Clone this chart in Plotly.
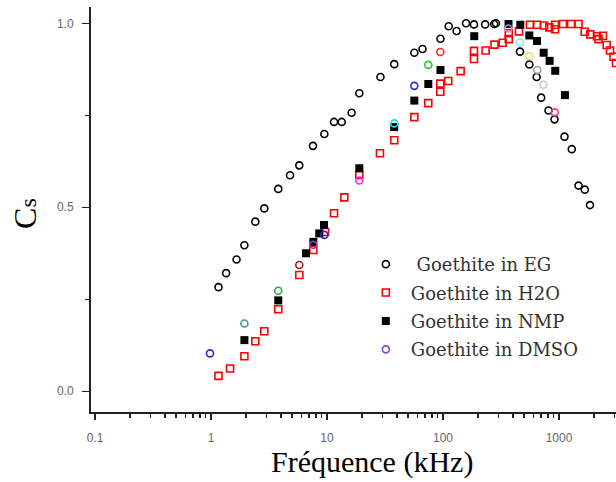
import plotly.graph_objects as go

# ---- data ----
EG_f = [1.16, 1.35, 1.66, 1.94, 2.41, 2.88, 3.80, 4.80, 5.77, 7.57,
        9.48, 11.5, 13.4, 16.3, 19.0, 28.9, 38.0, 56.6, 66.6, 95.1,
        112, 131, 158, 185, 231, 276, 286, 461, 555, 642,
        702, 812, 915, 1115, 1289, 1473, 1669, 1850]
EG_v = [0.283, 0.321, 0.358, 0.397, 0.461, 0.497, 0.550, 0.587, 0.614, 0.667,
        0.699, 0.732, 0.732, 0.757, 0.810, 0.854, 0.889, 0.920, 0.930, 0.958,
        0.992, 0.979, 1.0, 0.997, 0.997, 0.998, 1.0, 0.923, 0.888, 0.854,
        0.798, 0.763, 0.739, 0.692, 0.658, 0.559, 0.548, 0.506]

H2O_f = [1.16, 1.46, 1.94, 2.41, 2.88, 3.80, 5.77, 7.62, 9.61, 11.5,
         14.1, 19.0, 28.6, 38.0, 56.6, 74.7, 94.8, 94.8, 111, 142,
         185, 185, 233, 278, 327, 369, 369, 452, 562, 646,
         743, 825, 924, 924, 1083, 1269, 1473, 1666, 1861, 2126,
         2394, 2578, 2753, 2951, 3100, 2190]
H2O_v = [0.042, 0.062, 0.095, 0.136, 0.163, 0.223, 0.316, 0.384, 0.433, 0.484,
         0.527, 0.588, 0.647, 0.682, 0.745, 0.783, 0.814, 0.836, 0.843, 0.870,
         0.925, 0.903, 0.926, 0.942, 0.947, 0.957, 0.973, 0.978, 0.996, 0.996,
         0.994, 0.989, 0.996, 0.984, 0.998, 0.998, 0.998, 0.977, 0.970, 0.965,
         0.966, 0.941, 0.926, 0.909, 0.892, 0.957]

NMP_f = [1.94, 3.80, 6.59, 7.62, 8.58, 9.42, 19.0, 38.0, 56.6, 74.7,
         95.1, 186, 367, 464, 555, 646, 738, 830, 928, 1126]
NMP_v = [0.139, 0.247, 0.375, 0.406, 0.429, 0.452, 0.606, 0.718, 0.790, 0.835,
         0.873, 0.965, 0.998, 0.996, 0.967, 0.952, 0.920, 0.898, 0.871, 0.805]

DMSO_f = [0.98, 1.94, 3.80, 5.77, 7.62, 9.48, 19.0, 38.0, 56.6, 74.7,
          94.8, 366, 461, 555, 650, 732, 918]
DMSO_v = [0.103, 0.184, 0.273, 0.343, 0.398, 0.425, 0.573, 0.728, 0.830, 0.887,
          0.922, 0.986, 0.948, 0.911, 0.873, 0.833, 0.758]
DMSO_colors = ["#2a2ac8", "#3a9a9a", "#3aa83a", "#a02222", "#a040b0", "#2a2ac8",
               "#ff22ff", "#22e0e8", "#2a2ae0", "#22d022", "#ff2222", "#e070e8",
               "#90e8e8", "#e8e070", "#a0a0a0", "#c8c8c8", "#ff3090"]

names = ["\u00a0Goethite in EG", "Goethite in H2O", "Goethite in NMP", "Goethite in DMSO"]
x_ticks = [0.1, 1, 10, 100, 1000]
x_labels = ["0.1", "1", "10", "100", "1000"]
y_ticks = [0.0, 0.5, 1.0]
y_labels = ["0.0", "0.5", "1.0"]

fig = go.Figure()
fig.add_trace(go.Scatter(
    x=EG_f, y=EG_v, mode="markers", name=names[0], legendgroup="a",
    marker=dict(symbol="circle-open", size=7, color="black", line=dict(width=1.6)),
    cliponaxis=False))
fig.add_trace(go.Scatter(
    x=H2O_f, y=H2O_v, mode="markers", name=names[1], legendgroup="b",
    marker=dict(symbol="square-open", size=7, color="#ff0000", line=dict(width=1.6)),
    cliponaxis=False))
fig.add_trace(go.Scatter(
    x=NMP_f, y=NMP_v, mode="markers", name=names[2], legendgroup="c",
    marker=dict(symbol="square", size=8, color="black"),
    cliponaxis=False))
fig.add_trace(go.Scatter(
    x=DMSO_f, y=DMSO_v, mode="markers", showlegend=False,
    marker=dict(symbol="circle-open", size=7, color=DMSO_colors, line=dict(width=1.6)),
    cliponaxis=False))
fig.add_trace(go.Scatter(
    x=[None], y=[None], mode="markers", name=names[3], legendgroup="d",
    marker=dict(symbol="circle-open", size=7, color="#9040e0", line=dict(width=1.6))))

fig.update_layout(
    width=616, height=482,
    margin=dict(l=91, r=0, t=7, b=70),
    paper_bgcolor="white", plot_bgcolor="white",
    showlegend=True,
    hovermode=False,
    legend=dict(
        x=0.514, y=0.41, xanchor="left", yanchor="top",
        bgcolor="rgba(0,0,0,0)", borderwidth=0,
        font=dict(family="DejaVu Serif", size=18, color="#333333"),
        itemwidth=40, tracegroupgap=2, itemsizing="trace",
    ),
    annotations=[
        dict(text="Fréquence (kHz)", xref="paper", yref="paper",
             x=0.535, y=-0.1235, xanchor="center", yanchor="middle",
             showarrow=False,
             font=dict(family="Liberation Serif", size=30, color="black")),
        dict(text="C<span style='font-size:24px'>s</span>", xref="paper", yref="paper",
             x=-0.1257, y=0.489, xanchor="center", yanchor="middle",
             textangle=-90, showarrow=False,
             font=dict(family="Liberation Serif", size=32, color="black")),
    ],
)

fig.update_xaxes(
    type="log", range=[-1.0345, 3.4914],
    showgrid=False, zeroline=False,
    showline=True, linecolor="#222222", linewidth=2,
    ticks="outside", ticklen=6, tickwidth=1.5, tickcolor="#222222",
    tickvals=x_ticks, ticktext=x_labels,
    tickfont=dict(family="Arial", size=12, color="#666666"),
    ticklabelstandoff=8,
    minor=dict(ticks="outside", ticklen=4, tickwidth=1.5, tickcolor="#222222",
               dtick="D1", showgrid=False),
)
fig.update_yaxes(
    range=[-0.0563, 1.0443],
    showgrid=False, zeroline=False,
    showline=True, linecolor="#222222", linewidth=2,
    ticks="outside", ticklen=7, tickwidth=1.5, tickcolor="#222222",
    tickvals=y_ticks, ticktext=y_labels,
    tickfont=dict(family="Arial", size=12, color="#666666"),
    ticklabelstandoff=6,
    minor=dict(ticks="outside", ticklen=4, tickwidth=1.5, tickcolor="#222222",
               tickvals=[0.25, 0.75], showgrid=False),
)

fig.write_html("out.html",
               config={"displayModeBar": False, "staticPlot": True},
               post_script="document.body.style.margin='0px';document.body.style.overflow='hidden';")
